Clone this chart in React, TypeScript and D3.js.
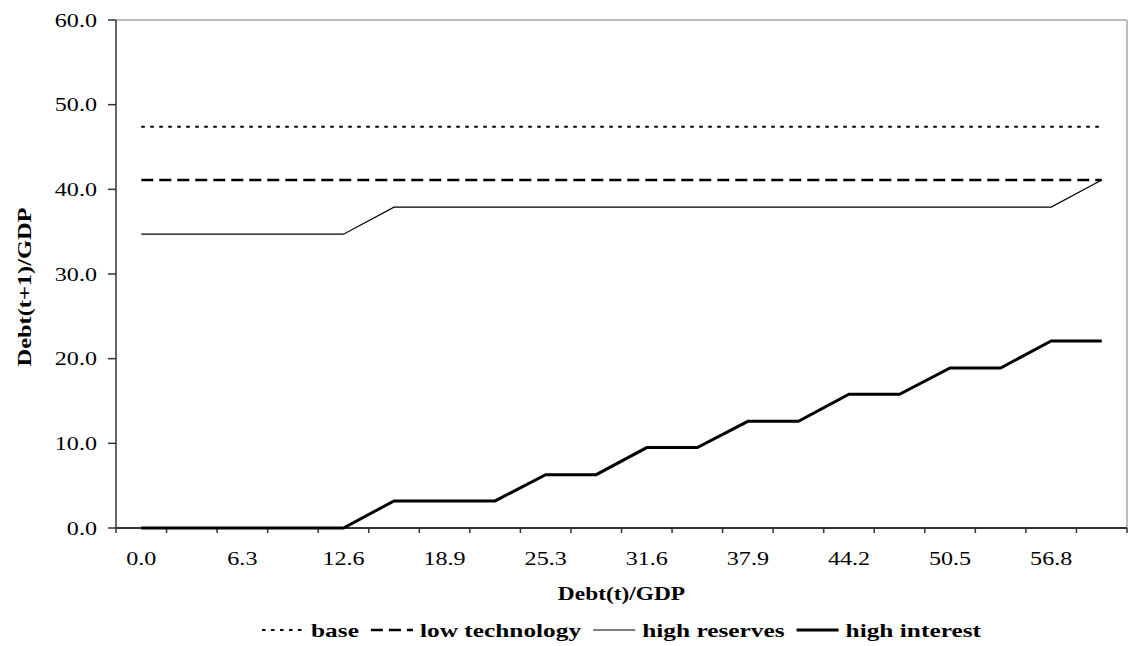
import { useEffect, useRef } from 'react'
import * as d3 from 'd3'

// Debt(t)/GDP categories (labels shown on every other one)
const debtT = ['0.0', '3.2', '6.3', '9.5', '12.6', '15.8', '18.9', '22.1', '25.3', '28.4',
  '31.6', '34.7', '37.9', '41.1', '44.2', '47.4', '50.5', '53.7', '56.8', '60.0']

const base = [47.4, 47.4, 47.4, 47.4, 47.4, 47.4, 47.4, 47.4, 47.4, 47.4,
  47.4, 47.4, 47.4, 47.4, 47.4, 47.4, 47.4, 47.4, 47.4, 47.4]
const lowTechnology = [41.1, 41.1, 41.1, 41.1, 41.1, 41.1, 41.1, 41.1, 41.1, 41.1,
  41.1, 41.1, 41.1, 41.1, 41.1, 41.1, 41.1, 41.1, 41.1, 41.1]
const highReserves = [34.7, 34.7, 34.7, 34.7, 34.7, 37.9, 37.9, 37.9, 37.9, 37.9,
  37.9, 37.9, 37.9, 37.9, 37.9, 37.9, 37.9, 37.9, 37.9, 41.1]
const highInterest = [0, 0, 0, 0, 0, 3.2, 3.2, 3.2, 6.3, 6.3,
  9.5, 9.5, 12.6, 12.6, 15.8, 15.8, 18.9, 18.9, 22.1, 22.1]

const yTicks = [0, 10, 20, 30, 40, 50, 60]

const series = [
  { name: 'base', values: base, width: 2, dash: '3.5,5.5' },
  { name: 'low technology', values: lowTechnology, width: 2.3, dash: '12,6' },
  { name: 'high reserves', values: highReserves, width: 1.2, dash: null },
  { name: 'high interest', values: highInterest, width: 3, dash: null },
]

export default function App() {
  const ref = useRef<SVGSVGElement>(null)

  useEffect(() => {
    if (!ref.current) return
    const svg = d3.select(ref.current)
    svg.selectAll('*').remove()

    const font = '"Liberation Serif", "Times New Roman", serif'
    const left = 116, right = 1127, top = 20, bottom = 528
    const sx = 1.27

    const x = d3.scaleBand<string>().domain(debtT).range([left, right])
    const y = d3.scaleLinear().domain([0, 60]).range([bottom, top])
    const bw = x.bandwidth()

    // frame
    svg.append('line').attr('x1', left).attr('x2', right).attr('y1', top).attr('y2', top)
      .attr('stroke', '#a6a6a6').attr('stroke-width', 1.5)
    svg.append('line').attr('x1', right).attr('x2', right).attr('y1', top).attr('y2', bottom)
      .attr('stroke', '#a6a6a6').attr('stroke-width', 1.5)

    // y axis
    svg.append('line').attr('x1', left).attr('x2', left).attr('y1', top).attr('y2', bottom)
      .attr('stroke', '#333').attr('stroke-width', 1.5)
    yTicks.forEach(t => {
      svg.append('line').attr('x1', left - 8).attr('x2', left).attr('y1', y(t)).attr('y2', y(t))
        .attr('stroke', '#333').attr('stroke-width', 1.5)
      svg.append('text')
        .attr('transform', `translate(${left - 19},${y(t)}) scale(${sx},1)`)
        .attr('dy', '0.35em')
        .attr('text-anchor', 'end')
        .style('font-family', font).style('font-size', '19px')
        .text(t.toFixed(1))
    })

    // x axis
    svg.append('line').attr('x1', left).attr('x2', right).attr('y1', bottom).attr('y2', bottom)
      .attr('stroke', '#333').attr('stroke-width', 2)
    const bounds = debtT.map(d => x(d)!).concat([right])
    bounds.forEach(b => {
      svg.append('line').attr('x1', b).attr('x2', b).attr('y1', bottom).attr('y2', bottom + 5)
        .attr('stroke', '#333').attr('stroke-width', 1.5)
    })
    debtT.forEach((d, i) => {
      if (i % 2 !== 0) return
      svg.append('text')
        .attr('transform', `translate(${x(d)! + bw / 2},${bottom + 37}) scale(${sx},1)`)
        .attr('text-anchor', 'middle')
        .style('font-family', font).style('font-size', '19px')
        .text(d)
    })

    // series lines
    const line = d3.line<number>()
      .x((_, i) => x(debtT[i])! + bw / 2)
      .y(d => y(d))
    series.forEach(s => {
      const p = svg.append('path')
        .datum(s.values)
        .attr('d', line)
        .attr('fill', 'none')
        .attr('stroke', '#000')
        .attr('stroke-width', s.width)
        .attr('stroke-linejoin', 'miter')
      if (s.dash) p.attr('stroke-dasharray', s.dash)
    })

    // axis titles
    svg.append('text')
      .attr('transform', `translate(${(left + right) / 2},${bottom + 72}) scale(1.3,1)`)
      .attr('text-anchor', 'middle')
      .style('font-family', font).style('font-size', '18px').style('font-weight', 'bold')
      .text('Debt(t)/GDP')
    svg.append('text')
      .attr('transform', `translate(31,${287}) rotate(-90)`)
      .attr('text-anchor', 'middle')
      .attr('textLength', 159)
      .attr('lengthAdjust', 'spacingAndGlyphs')
      .style('font-family', font).style('font-size', '18px').style('font-weight', 'bold')
      .text('Debt(t+1)/GDP')

    // legend
    const legend = svg.append('g')
    const symW = 42, gapA = 7, gapB = 12
    let cx = 0
    series.forEach(s => {
      const l = legend.append('line')
        .attr('x1', cx).attr('x2', cx + symW).attr('y1', 0).attr('y2', 0)
        .attr('stroke', '#000').attr('stroke-width', s.width)
      if (s.dash) l.attr('stroke-dasharray', s.dash)
      cx += symW + gapA
      const t = legend.append('text')
        .attr('transform', `translate(${cx},7) scale(1.3,1)`)
        .style('font-family', font).style('font-size', '19.5px').style('font-weight', 'bold')
        .text(s.name)
      const tw = (t.node() as SVGTextElement).getComputedTextLength() * 1.3
      cx += tw + gapB
    })
    cx -= gapB
    legend.attr('transform', `translate(${(left + right) / 2 - cx / 2},630)`)
  }, [])

  return (
    <svg ref={ref} width={1129} height={646}
      style={{ position: 'absolute', left: 0, top: 0, background: '#fff' }} />
  )
}
